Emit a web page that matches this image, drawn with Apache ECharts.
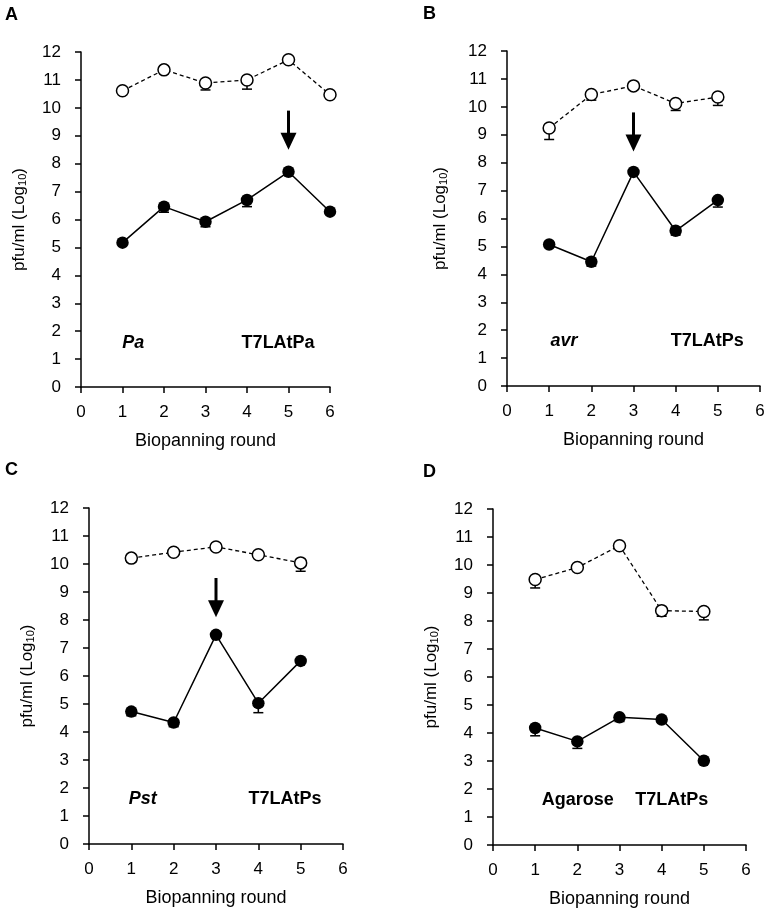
<!DOCTYPE html>
<html>
<head>
<meta charset="utf-8">
<script src="https://cdn.jsdelivr.net/npm/echarts@6/dist/echarts.min.js"></script>
<style>
  html, body { margin: 0; padding: 0; background: #fff; }
  #chart { width: 769px; height: 917px; }
</style>
</head>
<body>
<div id="chart"></div>
<script>
// rounds of biopanning
const rounds6 = [1, 2, 3, 4, 5, 6];
const rounds5 = [1, 2, 3, 4, 5];

// A: Pa / T7LAtPa
const inputA = [10.61, 11.36, 10.89, 11.0, 11.72, 10.47];
const inputErrA = [0.05, 0.05, 0.25, 0.33, 0.05, 0.1];
const outputA = [5.17, 6.46, 5.92, 6.7, 7.71, 6.28];
const outputErrA = [0.05, 0.2, 0.18, 0.24, 0.05, 0.05];

// B: avr / T7LAtPs
const inputB = [9.24, 10.44, 10.75, 10.12, 10.35];
const inputErrB = [0.41, 0.2, 0.05, 0.25, 0.3];
const outputB = [5.07, 4.45, 7.67, 5.56, 6.66];
const outputErrB = [0.1, 0.15, 0.05, 0.15, 0.25];

// C: Pst / T7LAtPs
const inputC = [10.21, 10.42, 10.61, 10.33, 10.04];
const inputErrC = [0.15, 0.1, 0.05, 0.05, 0.3];
const outputC = [4.73, 4.34, 7.47, 5.03, 6.54];
const outputErrC = [0.15, 0.15, 0.1, 0.34, 0.05];

// D: Agarose / T7LAtPs
const inputD = [9.48, 9.91, 10.69, 8.37, 8.34];
const inputErrD = [0.3, 0.05, 0.05, 0.2, 0.3];
const outputD = [4.18, 3.7, 4.56, 4.48, 3.01];
const outputErrD = [0.28, 0.25, 0.15, 0.1, 0.1];

// arrows: [round, top, tip]
const arrowA = [5, 9.9, 8.5];
const arrowB = [3, 9.8, 8.4];
const arrowC = [3, 9.5, 8.1];

// in-plot labels: [text, x, y, italic]
const notesA = [["Pa", 1.26, 1.58, true], ["T7LAtPa", 4.75, 1.58, false]];
const notesB = [["avr", 1.35, 1.6, true], ["T7LAtPs", 4.75, 1.6, false]];
const notesC = [["Pst", 1.27, 1.6, true], ["T7LAtPs", 4.63, 1.6, false]];
const notesD = [["Agarose", 2.01, 1.59, false], ["T7LAtPs", 4.24, 1.59, false]];

const panelLetters = ["A", "B", "C", "D"];
const xTitle = "Biopanning round";

const FONT = "'Liberation Sans', Arial, sans-serif";

const grids = [
  { left: 81, top: 52, width: 249, height: 335 },
  { left: 507, top: 51, width: 253, height: 335 },
  { left: 89, top: 508, width: 254, height: 336 },
  { left: 493, top: 509, width: 253, height: 336 }
];
const letterPos = [[5, 6], [423, 5], [5, 461], [423, 463]];

const panels = [
  { rounds: rounds6, inp: inputA, inpErr: inputErrA, out: outputA, outErr: outputErrA, arrow: arrowA, notes: notesA },
  { rounds: rounds5, inp: inputB, inpErr: inputErrB, out: outputB, outErr: outputErrB, arrow: arrowB, notes: notesB },
  { rounds: rounds5, inp: inputC, inpErr: inputErrC, out: outputC, outErr: outputErrC, arrow: arrowC, notes: notesC },
  { rounds: rounds5, inp: inputD, inpErr: inputErrD, out: outputD, outErr: outputErrD, arrow: null, notes: notesD }
];

const axisLineStyle = { color: "#000", width: 1.5 };

function errRender(params, api) {
  const x = api.value(0), y = api.value(1), e = api.value(2);
  const p1 = api.coord([x, y]);
  const p2 = api.coord([x, y - e]);
  const st = { stroke: "#000", lineWidth: 1.5 };
  return {
    type: "group",
    children: [
      { type: "line", shape: { x1: p1[0], y1: p1[1], x2: p2[0], y2: p2[1] }, style: st },
      { type: "line", shape: { x1: p2[0] - 5, y1: p2[1], x2: p2[0] + 5, y2: p2[1] }, style: st }
    ]
  };
}

function arrowRender(params, api) {
  const x = api.value(0);
  const top = api.coord([x, api.value(1)]);
  const tip = api.coord([x, api.value(2)]);
  const headH = 17, headW = 8;
  return {
    type: "group",
    children: [
      { type: "line", shape: { x1: top[0], y1: top[1], x2: tip[0], y2: tip[1] - headH + 1 },
        style: { stroke: "#000", lineWidth: 3 } },
      { type: "polygon", shape: { points: [[tip[0] - headW, tip[1] - headH], [tip[0] + headW, tip[1] - headH], [tip[0], tip[1]]] },
        style: { fill: "#000" } }
    ]
  };
}

const xAxes = [], yAxes = [], series = [], titles = [];

panels.forEach((p, i) => {
  xAxes.push({
    gridIndex: i, type: "value", min: 0, max: 6, interval: 1,
    axisLine: { show: true, lineStyle: axisLineStyle },
    axisTick: { show: true, length: 6, lineStyle: axisLineStyle },
    splitLine: { show: false },
    axisLabel: { color: "#000", fontSize: 17, margin: 17, fontFamily: FONT },
    name: xTitle, nameLocation: "middle", nameGap: 45,
    nameTextStyle: { color: "#000", fontSize: 18, fontFamily: FONT }
  });
  yAxes.push({
    gridIndex: i, type: "value", min: 0, max: 12, interval: 1,
    axisLine: { show: true, lineStyle: axisLineStyle },
    axisTick: { show: true, length: 6, lineStyle: axisLineStyle },
    splitLine: { show: false },
    axisLabel: { color: "#000", fontSize: 17, margin: 20, fontFamily: FONT },
    name: "{a|pfu/ml (Log}{s|10}{a|)}", nameLocation: "middle", nameGap: i === 1 ? 58 : 53,
    nameTextStyle: {
      rich: {
        a: { color: "#000", fontSize: 17, fontFamily: FONT },
        s: { color: "#000", fontSize: 11, fontFamily: FONT, verticalAlign: "bottom", padding: [7, 0, 0, 0] }
      }
    }
  });

  const inpData = p.rounds.map((r, k) => [r, p.inp[k]]);
  const outData = p.rounds.map((r, k) => [r, p.out[k]]);

  // error bars (minus side only)
  series.push({
    type: "custom", xAxisIndex: i, yAxisIndex: i, z: 1, silent: true,
    renderItem: errRender,
    data: p.rounds.map((r, k) => [r, p.inp[k], p.inpErr[k]])
  });
  series.push({
    type: "custom", xAxisIndex: i, yAxisIndex: i, z: 1, silent: true,
    renderItem: errRender,
    data: p.rounds.map((r, k) => [r, p.out[k], p.outErr[k]])
  });
  // input (open circles, dashed)
  series.push({
    type: "line", xAxisIndex: i, yAxisIndex: i, z: 3, data: inpData,
    symbol: "circle", symbolSize: 12, showAllSymbol: true,
    lineStyle: { color: "#000", width: 1.3, type: [4, 3] },
    itemStyle: { color: "#fff", borderColor: "#000", borderWidth: 1.5 },
    animation: false
  });
  // output (filled circles, solid)
  series.push({
    type: "line", xAxisIndex: i, yAxisIndex: i, z: 3, data: outData,
    symbol: "circle", symbolSize: 12.5, showAllSymbol: true,
    lineStyle: { color: "#000", width: 1.5 },
    itemStyle: { color: "#000", borderColor: "#000", borderWidth: 0 },
    animation: false
  });
  if (p.arrow) {
    series.push({
      type: "custom", xAxisIndex: i, yAxisIndex: i, z: 4, silent: true,
      renderItem: arrowRender, data: [p.arrow]
    });
  }
  series.push({
    type: "scatter", xAxisIndex: i, yAxisIndex: i, symbolSize: 0, silent: true,
    itemStyle: { opacity: 1 },
    data: p.notes.map(n => ({
      value: [n[1], n[2]], name: n[0],
      label: { fontStyle: n[3] ? "italic" : "normal" }
    })),
    label: {
      show: true, position: "inside", formatter: "{b}", opacity: 1,
      color: "#000", fontSize: 18, fontWeight: "bold", fontFamily: FONT
    }
  });

  titles.push({
    text: panelLetters[i], left: letterPos[i][0], top: letterPos[i][1], padding: 0,
    textStyle: { color: "#000", fontSize: 18, fontWeight: "bold", fontFamily: FONT }
  });
});

const chart = echarts.init(document.getElementById("chart"), null, { renderer: "canvas" });
chart.setOption({
  backgroundColor: "#fff",
  animation: false,
  title: titles,
  grid: grids,
  xAxis: xAxes,
  yAxis: yAxes,
  series: series
});
</script>
</body>
</html>
